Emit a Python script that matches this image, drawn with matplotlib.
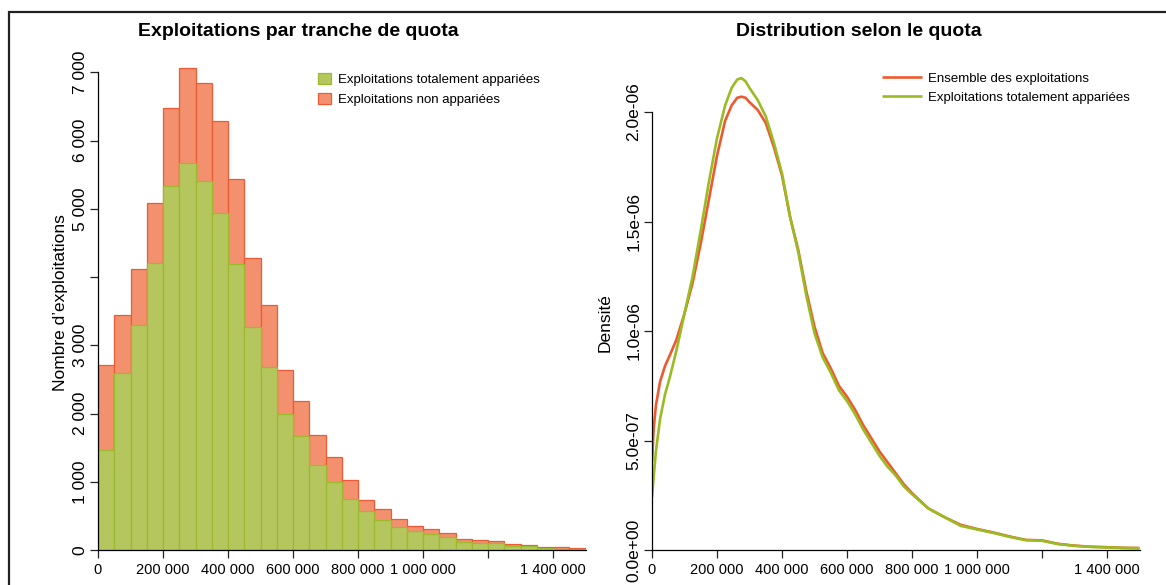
import matplotlib
matplotlib.use("Agg")
import matplotlib.pyplot as plt
from matplotlib.patches import Rectangle, Patch
import numpy as np

plt.rcParams['font.family'] = ['Liberation Sans', 'DejaVu Sans']

# --- Histogram: farms per quota bracket (bins of 50 000) ---
bin_width = 50_000
bin_edges = np.arange(0, 1_500_001, bin_width)
total_counts = [2710, 3450, 4120, 5090, 6470, 7060, 6840, 6290, 5430, 4280,
                3590, 2640, 2180, 1690, 1370, 1020, 740, 600, 455, 357,
                308, 254, 166, 151, 127, 83, 78, 44, 39, 29]
matched_counts = [1470, 2600, 3300, 4200, 5330, 5670, 5400, 4940, 4190, 3270,
                  2680, 2000, 1670, 1250, 1000, 750, 570, 440, 342, 278,
                  235, 196, 122, 107, 98, 59, 54, 29, 20, 15]

# --- Density curves by quota ---
quota = [0, 5_000, 12_000, 25_000, 40_000, 55_000, 75_000, 100_000, 125_000,
         150_000, 175_000, 200_000, 225_000, 245_000, 262_000, 275_000,
         288_000, 300_000, 325_000, 350_000, 375_000,
         400_000, 425_000, 450_000, 475_000, 500_000, 525_000, 550_000, 575_000,
         600_000, 625_000, 650_000, 675_000, 700_000, 725_000, 750_000, 775_000,
         800_000, 850_000, 900_000, 950_000, 1_000_000, 1_050_000, 1_100_000,
         1_150_000, 1_200_000, 1_250_000, 1_300_000, 1_350_000, 1_400_000,
         1_450_000, 1_500_000]
dens_all = [0.40, 0.55, 0.66, 0.77, 0.84, 0.89, 0.96, 1.08, 1.22,
            1.40, 1.60, 1.80, 1.96, 2.03, 2.065, 2.07,
            2.065, 2.045, 2.01, 1.95, 1.84,
            1.71, 1.52, 1.37, 1.18, 1.02, 0.90, 0.83, 0.75,
            0.70, 0.64, 0.57, 0.51, 0.45, 0.40, 0.35, 0.30,
            0.26, 0.19, 0.15, 0.115, 0.096, 0.080, 0.062,
            0.046, 0.044, 0.028, 0.020, 0.015, 0.013,
            0.010, 0.009]
dens_matched = [0.24, 0.33, 0.45, 0.60, 0.71, 0.79, 0.91, 1.08, 1.25,
                1.46, 1.68, 1.88, 2.03, 2.11, 2.148, 2.155,
                2.14, 2.11, 2.055, 1.98, 1.86,
                1.72, 1.52, 1.36, 1.16, 0.99, 0.88, 0.81, 0.73,
                0.68, 0.62, 0.55, 0.49, 0.43, 0.38, 0.34, 0.29,
                0.255, 0.19, 0.15, 0.11, 0.094, 0.078, 0.060,
                0.045, 0.042, 0.027, 0.019, 0.014, 0.012,
                0.009, 0.008]
dens_all = [v * 1e-6 for v in dens_all]
dens_matched = [v * 1e-6 for v in dens_matched]

x_ticks = [0, 200_000, 400_000, 600_000, 800_000, 1_000_000, 1_200_000, 1_400_000]
x_labels = ["0", "200 000", "400 000", "600 000", "800 000", "1 000 000", "", "1 400 000"]
y1_ticks = [0, 1000, 2000, 3000, 4000, 5000, 6000, 7000]
y1_labels = ["0", "1 000", "2 000", "3 000", "", "5 000", "6 000", "7 000"]
y2_ticks = [0, 5e-7, 1e-6, 1.5e-6, 2e-6]
y2_labels = ["0.0e+00", "5.0e-07", "1.0e-06", "1.5e-06", "2.0e-06"]

GREEN_FILL = "#B5C65F"
GREEN_EDGE = "#9BBA2C"
RED_FILL = "#F3916E"
RED_EDGE = "#EE5A35"
RED_LINE = "#EE5A30"
GREEN_LINE = "#9BBB22"

W, H = 1166, 585
fig = plt.figure(figsize=(W / 100, H / 100), dpi=100)

# outer frame of the figure
fig.patches.append(Rectangle((8.5 / W, -0.1), 1.2, (H - 11.5) / H + 0.1,
                             transform=fig.transFigure, fill=False,
                             edgecolor="#222222", linewidth=1.6))


def style_axes(ax, xmax, ybound):
    for s in ("top", "right"):
        ax.spines[s].set_visible(False)
    ax.spines["left"].set_bounds(*ybound)
    ax.spines["bottom"].set_bounds(0, xmax)
    for s in ("left", "bottom"):
        ax.spines[s].set_linewidth(0.9)
    ax.tick_params(direction="out", length=6, width=0.9,
                   colors="#222222", labelcolor="black")
    ax.tick_params(axis="x", pad=3, labelsize=10.5)
    ax.tick_params(axis="y", pad=1.5, labelsize=12.5)
    ax.set_xticks(x_ticks)
    ax.set_xticklabels(x_labels)


ax_w = 487.5 / W
ax_h = 505 / H
ax_b = 35 / H

# ---------- left: histogram ----------
ax1 = fig.add_axes([98 / W, ax_b, ax_w, ax_h])
ax1.bar(bin_edges[:-1], total_counts, width=bin_width, align="edge",
        color=RED_FILL, edgecolor=RED_EDGE, linewidth=0.9)
ax1.bar(bin_edges[:-1], matched_counts, width=bin_width, align="edge",
        color=GREEN_FILL, edgecolor=GREEN_EDGE, linewidth=0.9)
ax1.set_xlim(0, 1_500_000)
ax1.set_ylim(0, 7400)
style_axes(ax1, 1_500_000, (0, 7000))
ax1.set_yticks(y1_ticks)
ax1.set_yticklabels(y1_labels, rotation=90, va="center")
ax1.set_ylabel("Nombre d’exploitations", fontsize=12.5)
ax1.yaxis.set_label_coords(-30 / 487.5, 0.49)
ax1.legend(handles=[Patch(facecolor=GREEN_FILL, edgecolor=GREEN_EDGE, linewidth=0.9,
                          label="Exploitations totalement appariées"),
                    Patch(facecolor=RED_FILL, edgecolor=RED_EDGE, linewidth=0.9,
                          label="Exploitations non appariées")],
           loc="upper left", bbox_to_anchor=((318 - 98) / 487.5, (550 - 72.5) / 505),
           frameon=False, fontsize=9.5, handlelength=0.95, handleheight=0.95,
           handletextpad=0.6, labelspacing=0.52, borderpad=0, borderaxespad=0)

# ---------- right: density curves ----------
ax2 = fig.add_axes([652 / W, ax_b, ax_w, ax_h])
ax2.plot(quota, dens_all, color=RED_LINE, linewidth=1.9, solid_capstyle="butt",
         solid_joinstyle="round", label="Ensemble des exploitations")
ax2.plot(quota, dens_matched, color=GREEN_LINE, linewidth=1.9, solid_capstyle="butt",
         solid_joinstyle="round", label="Exploitations totalement appariées")
ax2.set_xlim(0, 1_500_000)
ax2.set_ylim(0, 2.306e-6)
style_axes(ax2, 1_500_000, (0, 2e-6))
ax2.set_yticks(y2_ticks)
ax2.set_yticklabels(y2_labels, rotation=90, va="center")
ax2.set_ylabel("Densité", fontsize=12.5)
ax2.yaxis.set_label_coords(-39 / 487.5, 0.45)
ax2.legend(loc="upper left", bbox_to_anchor=((882 - 652) / 487.5, (550 - 72.5) / 505),
           frameon=False, fontsize=9.5, handlelength=3.0, handletextpad=0.45,
           labelspacing=0.52, borderpad=0, borderaxespad=0)

# panel titles
fig.text(298 / W, 1 - 32 / H, "Exploitations par tranche de quota",
         ha="center", va="center", fontsize=14, fontweight="bold")
fig.text(859 / W, 1 - 32 / H, "Distribution selon le quota",
         ha="center", va="center", fontsize=14, fontweight="bold")

fig.savefig("out.png", dpi=100)
